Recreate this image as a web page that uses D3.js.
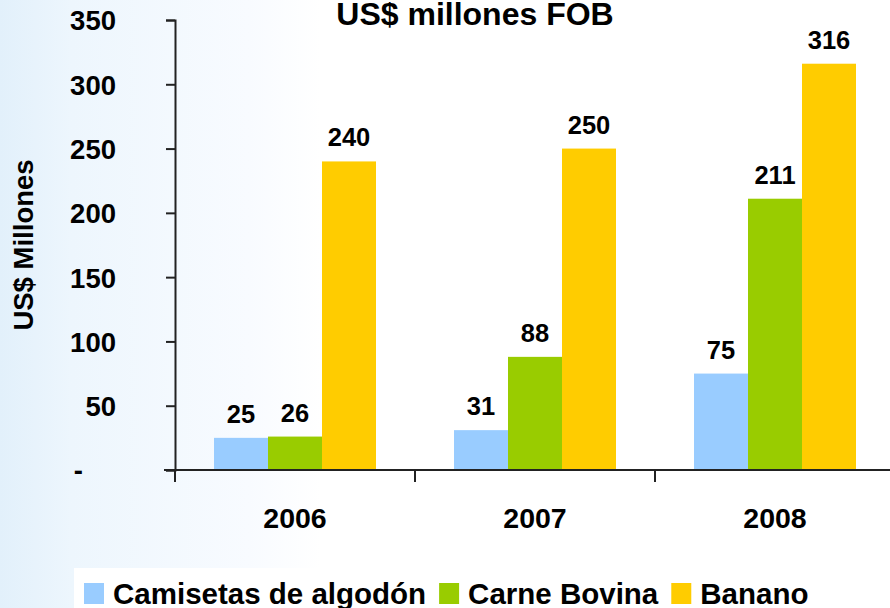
<!DOCTYPE html>
<html lang="es">
	<head>
		<meta charset="utf-8">
		<title>US$ millones FOB</title>
		<script type="text/javascript" src="https://cdn.jsdelivr.net/npm/d3@7/dist/d3.min.js"></script>
		<style type="text/css">
			body { margin: 0; background: #fff; }
			text { font-family: "Liberation Sans", Arial, sans-serif; font-weight: bold; fill: #000; }
		</style>
	</head>
	<body>
		<script type="text/javascript">

			//Data
			var years = ["2006", "2007", "2008"];
			var seriesNames = ["Camisetas de algodón", "Carne Bovina", "Banano"];
			var camisetas = [25, 31, 75];
			var carne = [26, 88, 211];
			var banano = [240, 250, 316];
			var yTicks = [0, 50, 100, 150, 200, 250, 300, 350];
			var colors = ["#99ccff", "#99cc00", "#ffcc00"];

			var seriesValues = [camisetas, carne, banano];

			//Width and height
			var w = 890;
			var h = 608;

			var svg = d3.select("body")
						.append("svg")
						.attr("width", w)
						.attr("height", h);

			//background fade on the left
			var defs = svg.append("defs");
			var grad = defs.append("linearGradient")
				.attr("id", "bg")
				.attr("x1", 0).attr("x2", 1).attr("y1", 0).attr("y2", 0);
			grad.append("stop").attr("offset", "0%").attr("stop-color", "#e2f0fb");
			grad.append("stop").attr("offset", "8%").attr("stop-color", "#edf6fd");
			grad.append("stop").attr("offset", "28%").attr("stop-color", "#f8fbff");
			grad.append("stop").attr("offset", "36%").attr("stop-color", "#ffffff");
			grad.append("stop").attr("offset", "100%").attr("stop-color", "#ffffff");

			svg.append("rect")
				.attr("width", w).attr("height", h)
				.attr("fill", "url(#bg)");

			//legend box
			svg.append("rect")
				.attr("x", 74).attr("y", 568)
				.attr("width", w - 74).attr("height", h - 568)
				.attr("fill", "#ffffff");

			var xScale = d3.scaleBand()
				.domain(years)
				.range([175, 895]);

			var subScale = d3.scaleBand()
				.domain(seriesNames)
				.range([39, 201]);

			var yScale = d3.scaleLinear()
				.domain([0, 350])
				.range([470, 20]);

			//title
			svg.append("text")
				.attr("x", 475)
				.attr("y", 25)
				.attr("text-anchor", "middle")
				.attr("font-size", 32)
				.text("US$ millones FOB");

			//y axis title
			svg.append("text")
				.attr("transform", "translate(33,245) rotate(-90)")
				.attr("text-anchor", "middle")
				.attr("font-size", 27.5)
				.text("US$ Millones");

			//bars
			var groups = svg.selectAll("g.series")
				.data(seriesNames)
				.enter()
				.append("g")
				.attr("class", "series")
				.attr("fill", function(d, i){ return colors[i]; });

			groups.selectAll("rect")
				.data(function(d, i){ return seriesValues[i].map(function(v, j){ return {s: d, year: years[j], v: v}; }); })
				.enter()
				.append("rect")
				.attr("x", function(d){ return xScale(d.year) + subScale(d.s); })
				.attr("y", function(d){ return yScale(d.v); })
				.attr("width", subScale.bandwidth())
				.attr("height", function(d){ return yScale(0) - yScale(d.v); });

			//value labels
			groups.selectAll("text")
				.data(function(d, i){ return seriesValues[i].map(function(v, j){ return {s: d, year: years[j], v: v}; }); })
				.enter()
				.append("text")
				.attr("x", function(d){ return xScale(d.year) + subScale(d.s) + subScale.bandwidth() / 2; })
				.attr("y", function(d){ return yScale(d.v) - 15; })
				.attr("text-anchor", "middle")
				.attr("font-size", 25.5)
				.text(function(d){ return d.v; });

			//y axis
			var yAxis = d3.axisLeft(yScale)
				.tickValues(yTicks)
				.tickSize(9)
				.tickPadding(50)
				.tickFormat(function(d){ return d === 0 ? "-" : d; });

			var yg = svg.append("g")
				.attr("transform", "translate(175,0)")
				.call(yAxis);
			yg.select(".domain").attr("stroke", "#222").attr("stroke-width", 2);
			yg.selectAll(".tick line").attr("stroke", "#222").attr("stroke-width", 2);
			yg.selectAll(".tick text")
				.attr("font-size", 27.5)
				.attr("font-family", null)
				.attr("fill", "#000")
				.attr("dy", "0.36em");
			yg.selectAll(".tick text")
				.filter(function(d){ return d === 0; })
				.attr("x", -92);

			//x axis line
			svg.append("line")
				.attr("x1", 164).attr("x2", w)
				.attr("y1", yScale(0)).attr("y2", yScale(0))
				.attr("stroke", "#222").attr("stroke-width", 2);

			//category boundary ticks
			svg.selectAll("line.xtick")
				.data(years)
				.enter()
				.append("line")
				.attr("class", "xtick")
				.attr("x1", function(d){ return xScale(d); })
				.attr("x2", function(d){ return xScale(d); })
				.attr("y1", yScale(0))
				.attr("y2", yScale(0) + 12)
				.attr("stroke", "#222").attr("stroke-width", 2);

			//category labels
			svg.selectAll("text.year")
				.data(years)
				.enter()
				.append("text")
				.attr("class", "year")
				.attr("x", function(d){ return xScale(d) + xScale.bandwidth() / 2; })
				.attr("y", 528)
				.attr("text-anchor", "middle")
				.attr("font-size", 28.5)
				.text(function(d){ return d; });

			//legend
			var lx = 84;
			seriesNames.forEach(function(name, i){
				svg.append("rect")
					.attr("x", lx).attr("y", 583)
					.attr("width", 20).attr("height", 21)
					.attr("fill", colors[i]);
				var t = svg.append("text")
					.attr("x", lx + 29)
					.attr("y", 604)
					.attr("font-size", 29.5)
					.text(name);
				lx = lx + 29 + t.node().getComputedTextLength() + 13;
			});

		</script>
	</body>
</html>
